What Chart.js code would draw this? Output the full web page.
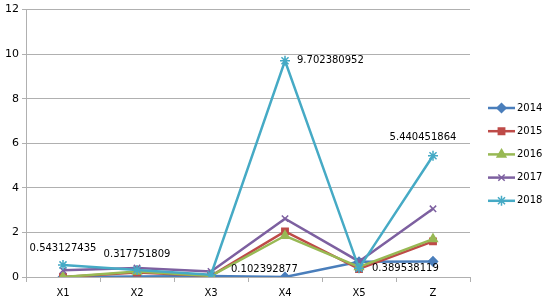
<!DOCTYPE html>
<html>
<head>
<meta charset="utf-8">
<script src="https://cdn.jsdelivr.net/npm/chart.js@4/dist/chart.umd.min.js"></script>
<style>
  html, body { margin: 0; padding: 0; background: #fff; }
  #wrap { width: 543px; height: 301px; position: relative; }
</style>
</head>
<body>
<div id="wrap"><canvas id="c"></canvas></div>
<script>
// Kategorie a řady
const categories = ['X1', 'X2', 'X3', 'X4', 'X5', 'Z'];
const yTicks = [0, 2, 4, 6, 8, 10, 12];
const s2014 = [0, 0.02, 0.05, 0, 0.68, 0.7];
const s2015 = [0, 0.2, 0.05, 2.05, 0.36, 1.6];
const s2016 = [0, 0.25, 0.05, 1.85, 0.45, 1.7];
const s2017 = [0.3, 0.4, 0.25, 2.62, 0.7, 3.06];
const s2018 = [0.543127435, 0.317751809, 0.102392877, 9.702380952, 0.389538119, 5.440451864];
const labels2018 = ['0.543127435', '0.317751809', '0.102392877', '9.702380952', '0.389538119', '5.440451864'];

// umístění popisků (posun od bodu v px)
const labelOffset = [[0, -16], [0, -16], [20, -5], [12, 0], [13, 0], [-10, -18]];
const labelAlign = ['center', 'center', 'left', 'left', 'left', 'center'];

const FONT = 'DejaVu Sans, sans-serif';
const GRID = '#b0b0b0';

const series = [
    { label: '2014', data: s2014, color: '#4a7ebb', style: 'rectRot', radius: 4.5 },
    { label: '2015', data: s2015, color: '#be4b48', style: 'rect', radius: 4.5 },
    { label: '2016', data: s2016, color: '#98b954', style: 'triangle', radius: 5 },
    { label: '2017', data: s2017, color: '#7d60a0', style: 'crossRot', radius: 4.5 },
    { label: '2018', data: s2018, color: '#46aac5', style: 'star', radius: 5 },
];

// Popisky hodnot řady 2018
const valueLabels = {
    id: 'valueLabels',
    afterDatasetsDraw(chart) {
        const meta = chart.getDatasetMeta(4);
        const ctx = chart.ctx;
        ctx.save();
        ctx.font = '10px ' + FONT;
        ctx.fillStyle = '#000';
        ctx.textBaseline = 'middle';
        meta.data.forEach((pt, i) => {
            ctx.textAlign = labelAlign[i];
            ctx.fillText(labels2018[i], pt.x + labelOffset[i][0], pt.y + labelOffset[i][1]);
        });
        ctx.restore();
    },
};

// Legenda vpravo: čára se značkou
const sideLegend = {
    id: 'sideLegend',
    afterDraw(chart) {
        const ctx = chart.ctx;
        ctx.save();
        chart.data.datasets.forEach((ds, i) => {
            const y = 108 + i * 23.2;
            ctx.strokeStyle = ds.borderColor;
            ctx.lineWidth = 2.5;
            ctx.beginPath();
            ctx.moveTo(488, y);
            ctx.lineTo(515, y);
            ctx.stroke();
            ctx.fillStyle = ds.pointBackgroundColor;
            ctx.strokeStyle = ds.pointBorderColor;
            ctx.lineWidth = 1.5;
            Chart.helpers.drawPoint(ctx, { pointStyle: ds.pointStyle, radius: ds.pointRadius, rotation: 0, borderWidth: 1.5 }, 501.5, y);
            ctx.fillStyle = '#000';
            ctx.font = '10px ' + FONT;
            ctx.textAlign = 'left';
            ctx.textBaseline = 'middle';
            ctx.fillText(ds.label, 517, y);
        });
        ctx.restore();
    },
};

new Chart(document.getElementById('c'), {
    type: 'line',
    data: {
        labels: categories,
        datasets: series.map((s, i) => ({
            label: s.label,
            data: s.data,
            borderColor: s.color,
            backgroundColor: s.color,
            pointBackgroundColor: s.color,
            pointBorderColor: s.color,
            pointStyle: s.style,
            pointRadius: s.radius,
            pointBorderWidth: 1.5,
            borderWidth: 2.5,
            tension: 0,
            order: 4 - i,
        })),
    },
    options: {
        responsive: true,
        maintainAspectRatio: false,
        animation: false,
        layout: { padding: { top: 8, right: 73, left: 0, bottom: 0 } },
        plugins: { legend: { display: false }, tooltip: { enabled: false } },
        scales: {
            x: {
                offset: true,
                grid: { offset: true, drawOnChartArea: false, drawTicks: true, tickLength: 5, color: GRID },
                border: { color: GRID },
                ticks: { color: '#000', font: { family: FONT, size: 10 }, padding: 5 },
                afterFit(scale) { scale.height = 24; },
            },
            y: {
                min: 0,
                max: 12,
                afterBuildTicks(scale) { scale.ticks = yTicks.map((v) => ({ value: v })); },
                grid: { color: GRID, tickLength: 4 },
                border: { color: GRID },
                ticks: { color: '#000', font: { family: FONT, size: 11 }, padding: 3 },
                afterFit(scale) { scale.width = 26; },
            },
        },
    },
    plugins: [valueLabels, sideLegend],
});
</script>
</body>
</html>
